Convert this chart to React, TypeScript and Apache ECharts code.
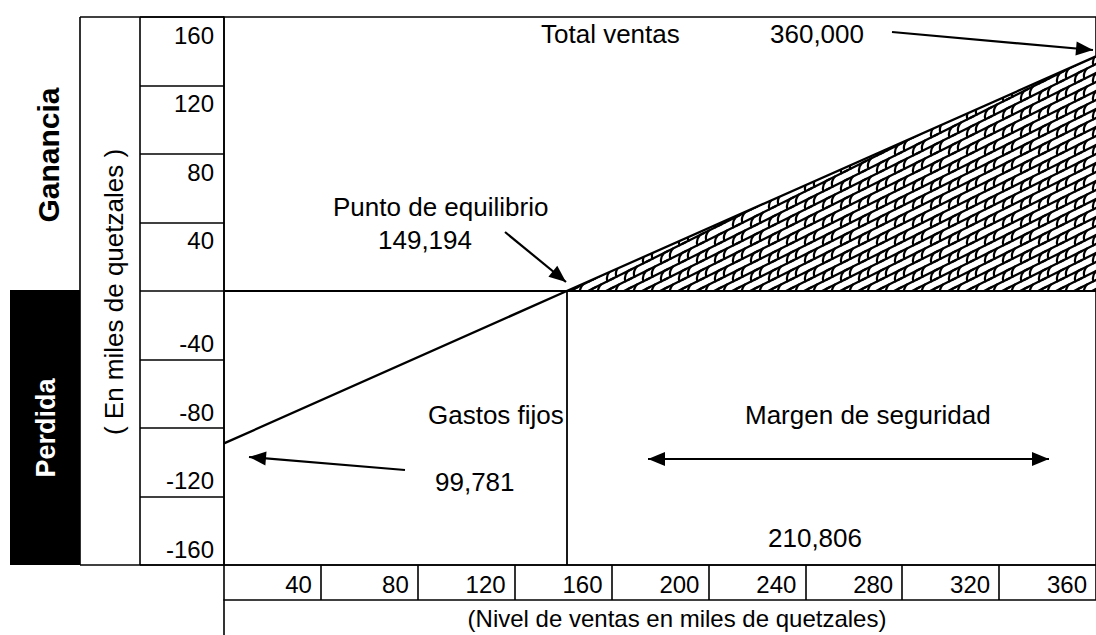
import React, { useEffect, useRef } from 'react';
import * as echarts from 'echarts';

// ---- data (thousands of quetzales) ----
const xTickValues = [0, 40, 80, 120, 160, 200, 240, 280, 320, 360];
const yTickValues = [-160, -120, -80, -40, 0, 40, 80, 120, 160];
const resultX = [0, 141.5, 360];
const resultY = [-89, 0, 137];
const profitX = [141.5, 360];
const profitY = [0, 137];
const breakevenX = 141.5;

const sideTitles = ['Ganancia', 'Perdida', '( En miles de quetzales )'];
const xTitle = '(Nivel de ventas en miles de quetzales)';
const noteTotal = ['Total ventas', '360,000'];
const noteBreakeven = ['Punto de equilibrio', '149,194'];
const noteFixed = ['Gastos fijos', '99,781'];
const noteMargin = ['Margen de seguridad', '210,806'];

const FONT = 'Liberation Sans, Arial, sans-serif';

function makeHatch(): HTMLCanvasElement {
  const s = 18;
  const h = s / 2;
  const c = document.createElement('canvas');
  c.width = s;
  c.height = s;
  const g = c.getContext('2d')!;
  g.fillStyle = '#ffffff';
  g.fillRect(0, 0, s, s);
  g.strokeStyle = '#000000';
  g.lineWidth = 2.2;
  g.lineCap = 'round';
  for (const dx of [-s, 0, s]) {
    for (const dy of [-s, 0, s]) {
      for (const k of [0, 1]) {
        const rowY = (x: number) => h - x / 2 + h * k;
        g.beginPath();
        g.moveTo(dx - 2, dy + rowY(-2));
        g.lineTo(dx + s + 2, dy + rowY(s + 2));
        g.stroke();
        const xc = k === 0 ? 4.5 : 13.5;
        const by = rowY(xc);
        g.beginPath();
        g.moveTo(dx + xc, dy + by);
        g.quadraticCurveTo(dx + xc - 2, dy + by - 5, dx + xc + 2.5, dy + by - h - 1.2);
        g.stroke();
      }
    }
  }
  return c;
}

function arrowHead(tx: number, ty: number, fx: number, fy: number, len = 17, w = 7) {
  const a = Math.atan2(ty - fy, tx - fx);
  const bx = tx - len * Math.cos(a);
  const by = ty - len * Math.sin(a);
  return [
    [tx, ty],
    [bx + w * Math.sin(a), by - w * Math.cos(a)],
    [bx - w * Math.sin(a), by + w * Math.cos(a)],
  ];
}

function arrow(fx: number, fy: number, tx: number, ty: number, both = false) {
  const els: any[] = [
    { type: 'line', shape: { x1: fx, y1: fy, x2: tx, y2: ty }, style: { stroke: '#000', lineWidth: 2.2 } },
    { type: 'polygon', shape: { points: arrowHead(tx, ty, fx, fy) }, style: { fill: '#000' } },
  ];
  if (both) {
    els.push({ type: 'polygon', shape: { points: arrowHead(fx, fy, tx, ty) }, style: { fill: '#000' } });
  }
  return els;
}

function txt(text: string, x: number, y: number, extra: any = {}) {
  return {
    type: 'text',
    x,
    y,
    ...extra,
    style: {
      text,
      fill: '#000',
      fontFamily: FONT,
      fontSize: 26,
      align: 'left',
      verticalAlign: 'middle',
      ...(extra.style || {}),
    },
  };
}

function line(x1: number, y1: number, x2: number, y2: number) {
  return { type: 'line', shape: { x1, y1, x2, y2 }, style: { stroke: '#000', lineWidth: 1.6 } };
}

export default function App() {
  const ref = useRef<HTMLDivElement>(null);

  useEffect(() => {
    if (!ref.current) return;
    const chart = echarts.init(ref.current, undefined, { renderer: 'svg' });
    const hatch = makeHatch();

    const resultData = resultX.map((x, i) => [x, resultY[i]]);
    const profitData = profitX.map((x, i) => [x, profitY[i]]);

    const axisLabelBase = { color: '#000', fontFamily: FONT, fontSize: 24 };

    const option: any = {
      animation: false,
      backgroundColor: '#ffffff',
      grid: {
        left: 224,
        top: 17,
        right: -4.5,
        bottom: 70,
        show: true,
        borderColor: '#000',
        borderWidth: 1.6,
        backgroundColor: 'transparent',
      },
      xAxis: [
        {
          type: 'value',
          min: xTickValues[0],
          max: xTickValues[xTickValues.length - 1],
          interval: 40,
          position: 'bottom',
          axisLine: { show: true, onZero: false, lineStyle: { color: '#000', width: 1.6 } },
          axisTick: { show: true, length: 35, inside: false, lineStyle: { color: '#000', width: 1.6 } },
          splitLine: { show: false },
          axisLabel: {
            ...axisLabelBase,
            margin: 7,
            align: 'right',
            padding: [0, 9, 0, 0],
            formatter: (v: number) => (v === 0 ? '' : String(v)),
          },
        },
        {
          type: 'value',
          min: xTickValues[0],
          max: xTickValues[xTickValues.length - 1],
          position: 'bottom',
          offset: 35,
          axisLine: { show: true, onZero: false, lineStyle: { color: '#000', width: 1.6 } },
          axisTick: { show: false },
          axisLabel: { show: false },
          splitLine: { show: false },
        },
      ],
      yAxis: [
        {
          type: 'value',
          min: yTickValues[0],
          max: yTickValues[yTickValues.length - 1],
          interval: 40,
          position: 'left',
          axisLine: { show: true, onZero: false, lineStyle: { color: '#000', width: 1.6 } },
          axisTick: { show: true, length: 84, inside: false, lineStyle: { color: '#000', width: 1.6 } },
          splitLine: { show: false },
          axisLabel: {
            ...axisLabelBase,
            margin: 10,
            align: 'right',
            verticalAlign: 'top',
            padding: [6, 0, 0, 0],
            formatter: (v: number) => (v > 0 ? String(v) : ''),
          },
        },
        {
          type: 'value',
          min: yTickValues[0],
          max: yTickValues[yTickValues.length - 1],
          interval: 40,
          position: 'left',
          axisLine: { show: false },
          axisTick: { show: false },
          splitLine: { show: false },
          axisLabel: {
            ...axisLabelBase,
            margin: 10,
            align: 'right',
            verticalAlign: 'bottom',
            padding: [0, 0, 4, 0],
            formatter: (v: number) => (v < 0 ? String(v) : ''),
          },
        },
      ],
      series: [
        {
          type: 'line',
          name: 'Ganancia',
          data: profitData,
          symbol: 'none',
          lineStyle: { width: 0, opacity: 0 },
          areaStyle: {
            origin: 0,
            opacity: 1,
            color: { image: hatch, repeat: 'repeat', imageWidth: 18, imageHeight: 18 },
          },
          z: 1,
        },
        {
          type: 'line',
          name: 'Resultado',
          data: resultData,
          symbol: 'none',
          lineStyle: { color: '#000', width: 2.3 },
          z: 3,
          markLine: {
            silent: true,
            symbol: ['none', 'none'],
            label: { show: false },
            lineStyle: { color: '#000', width: 1.8, type: 'solid' },
            data: [
              { yAxis: 0 },
              [{ coord: [breakevenX, 0] }, { coord: [breakevenX, yTickValues[0]] }],
            ],
          },
        },
      ],
      graphic: [
        { type: 'rect', shape: { x: 10, y: 290, width: 70, height: 275 }, style: { fill: '#000' } },
        line(80, 17, 224, 17),
        line(80, 17, 80, 565),
        line(140, 17, 140, 565),
        line(80, 565, 224, 565),
        line(224, 600, 224, 635),
        txt(sideTitles[0], 48, 155, {
          rotation: Math.PI / 2,
          style: { align: 'center', fontWeight: 'bold', fontSize: 30 },
        }),
        txt(sideTitles[1], 46, 428, {
          rotation: Math.PI / 2,
          style: { align: 'center', fontWeight: 'bold', fontSize: 27, fill: '#fff' },
        }),
        txt(sideTitles[2], 114, 292, {
          rotation: Math.PI / 2,
          style: { align: 'center', fontSize: 26 },
        }),
        txt(xTitle, 677, 618, { style: { align: 'center', fontSize: 24 } }),
        txt(noteTotal[0], 541, 34),
        txt(noteTotal[1], 770, 34),
        ...arrow(892, 32, 1093, 50),
        txt(noteBreakeven[0], 333, 207),
        txt(noteBreakeven[1], 378, 240),
        ...arrow(505, 232, 566, 282),
        txt(noteFixed[0], 428, 415),
        txt(noteFixed[1], 435, 482),
        ...arrow(405, 470, 249, 457),
        txt(noteMargin[0], 745, 415),
        ...arrow(648, 459, 1049, 459, true),
        txt(noteMargin[1], 768, 538),
      ],
    };

    chart.setOption(option);
    return () => chart.dispose();
  }, []);

  return (
    <div
      ref={ref}
      style={{ position: 'absolute', left: 0, top: 0, width: 1096, height: 635, background: '#fff' }}
    />
  );
}
